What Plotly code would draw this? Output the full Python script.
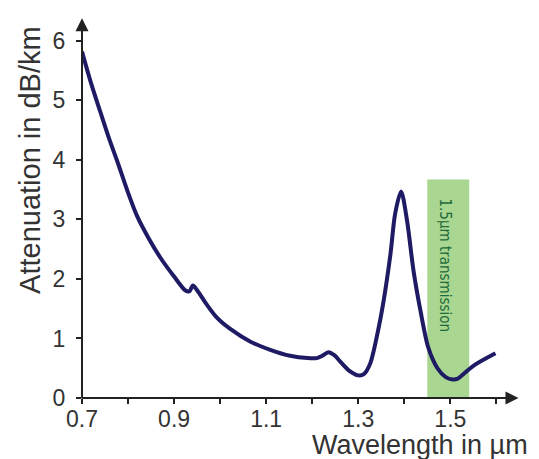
import plotly.graph_objects as go

# ---- data ----
wavelength = [0.700, 0.720, 0.740, 0.760, 0.776, 0.800, 0.820, 0.845, 0.870, 0.900,
              0.924, 0.933, 0.941, 0.950, 0.970, 0.993, 1.022, 1.065, 1.109, 1.152,
              1.190, 1.210, 1.222, 1.235, 1.248, 1.261, 1.280, 1.300, 1.312, 1.326,
              1.343, 1.354, 1.370, 1.380, 1.393, 1.406, 1.420, 1.435, 1.452, 1.472,
              1.490, 1.505, 1.515, 1.550, 1.598]
attenuation = [5.82, 5.28, 4.80, 4.33, 3.99, 3.45, 3.05, 2.68, 2.36, 2.04,
               1.81, 1.79, 1.89, 1.81, 1.58, 1.35, 1.16, 0.95, 0.81, 0.71,
               0.67, 0.67, 0.71, 0.77, 0.72, 0.61, 0.46, 0.38, 0.40, 0.58,
               1.13, 1.58, 2.42, 3.09, 3.47, 2.98, 2.14, 1.47, 0.85, 0.50,
               0.35, 0.31, 0.32, 0.54, 0.75]

x_tick_vals = [0.7, 0.8, 0.9, 1.0, 1.1, 1.2, 1.3, 1.4, 1.5, 1.6]
x_tick_text = ["0.7", "", "0.9", "", "1.1", "", "1.3", "", "1.5", ""]
y_tick_vals = [0, 1, 2, 3, 4, 5, 6]
y_tick_text = ["0", "1", "2", "3", "4", "5", "6"]

band_start, band_end, band_top = 1.45, 1.541, 3.67
band_label = "1.5µm transmission"
x_title = "Wavelength in µm"
y_title = "Attenuation in dB/km"

FONT = "Liberation Sans, Arial, Helvetica, sans-serif"
AXC = "#222222"

fig = go.Figure()
fig.add_trace(go.Scatter(
    x=wavelength, y=attenuation, mode="lines",
    line=dict(color="#1e1b64", width=4, shape="spline", smoothing=0.8),
    cliponaxis=False, hoverinfo="skip", showlegend=False))

fig.add_shape(type="rect", xref="x", yref="y", x0=band_start, x1=band_end,
              y0=0, y1=band_top, fillcolor="#a9d690", line=dict(width=0),
              layer="below")

annotations = [
    # x axis arrow
    dict(x=1.648, y=0, ax=0.696, ay=0, xref="x", yref="y", axref="x", ayref="y",
         text="", showarrow=True, arrowhead=2, arrowsize=1.3, arrowwidth=2,
         arrowcolor=AXC, standoff=0, startstandoff=0),
    # y axis arrow
    dict(x=0.7, y=6.38, ax=0.7, ay=-0.02, xref="x", yref="y", axref="x", ayref="y",
         text="", showarrow=True, arrowhead=2, arrowsize=1.3, arrowwidth=2,
         arrowcolor=AXC, standoff=0, startstandoff=0),
    dict(x=1.488, y=2.23, xref="x", yref="y", text=band_label, showarrow=False,
         textangle=90,
         font=dict(family="Liberation Sans Narrow, DejaVu Sans Condensed, Roboto, sans-serif",
                   size=15, color="#1f6b3a")),
    dict(x=-0.1176, y=0.62, xref="paper", yref="paper", text=y_title,
         showarrow=False, textangle=-90, xanchor="center", yanchor="middle",
         font=dict(family=FONT, size=29, color="#333333")),
    dict(x=1.0136, y=-0.123, xref="paper", yref="paper", text=x_title,
         showarrow=False, xanchor="right", yanchor="middle",
         font=dict(family=FONT, size=27, color="#333333")),
]

fig.update_layout(
    width=539, height=459,
    margin=dict(l=82, r=15, t=14, b=61),
    paper_bgcolor="white", plot_bgcolor="white",
    annotations=annotations,
    xaxis=dict(range=[0.7, 1.66], showgrid=False, zeroline=False, showline=False,
               tickmode="array", tickvals=x_tick_vals, ticktext=x_tick_text,
               ticks="outside", ticklen=5, tickwidth=1.5, tickcolor=AXC,
               ticklabelstandoff=-5,
               tickfont=dict(family=FONT, size=23, color="#333333")),
    yaxis=dict(range=[0, 6.45], showgrid=False, zeroline=False, showline=False,
               tickmode="array", tickvals=y_tick_vals, ticktext=y_tick_text,
               ticks="outside", ticklen=5, tickwidth=1.5, tickcolor=AXC,
               ticklabelstandoff=6,
               tickfont=dict(family=FONT, size=23, color="#333333")),
)

fig.write_html("out.html", config={"displayModeBar": False},
               post_script="document.body.style.margin='0';document.body.style.padding='0';")
